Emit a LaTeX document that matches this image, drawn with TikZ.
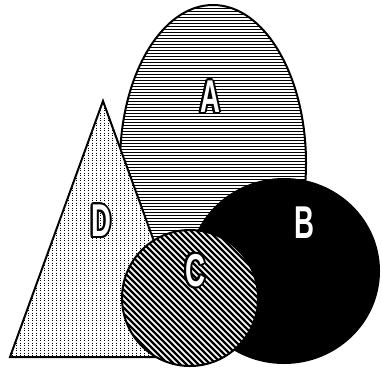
\documentclass[tikz,border=0pt]{standalone}
\usepackage{fontspec}
\newfontfamily\lblfont{Liberation Sans}
\tikzset{
  outline/.style={line width=2pt, draw=black},
  hatch/.style={line width=1pt, black},
}
\newcommand{\outlined}[1]{%
  \tikz[baseline]{%
    \foreach \a in {0,22.5,...,359}{\node[inner sep=0pt, text=black, anchor=base] at (\a:2pt) {#1};}
    \node[inner sep=0pt, text=white, anchor=base] at (0,0) {#1};}}
\newcommand{\lbl}[1]{\scalebox{0.6}[1]{\lblfont\bfseries\fontsize{46}{46}\selectfont #1}}
\begin{document}
\begin{tikzpicture}[x=1pt,y=-1pt]
\useasboundingbox (0,0) rectangle (382,368);
% A ellipse
\fill[white] (213,163) ellipse [x radius=93, y radius=158];
\begin{scope}
  \clip (213,163) ellipse [x radius=93, y radius=158];
  \foreach \y in {5,8,...,325} \draw[hatch] (115,\y) -- (310,\y);
\end{scope}
\draw[outline] (213,163) ellipse [x radius=93, y radius=158];
% D triangle
\fill[white] (103,101) -- (196,357) -- (10,357) -- cycle;
\begin{scope}
  \clip (103,101) -- (196,357) -- (10,357) -- cycle;
  \foreach \x in {12,16,...,196} \draw[line width=1pt, dash pattern=on 1pt off 1.5pt] (\x,100) -- (\x,358);
\end{scope}
\draw[outline, line join=miter] (103,101) -- (196,357) -- (10,357) -- cycle;
% B ellipse
\fill[black] (284,271) ellipse [x radius=96, y radius=93];
% C circle
\fill[white] (190,298) circle [radius=68];
\begin{scope}
  \clip (190,298) circle [radius=68];
  \foreach \k in {-160,-154,...,160} \draw[line width=2.3pt] (190+\k-80,218) -- (190+\k+80,378);
\end{scope}
\draw[outline] (190,298) circle [radius=68];
% labels
\node (la) at (210,97) {\outlined{\lbl{A}}};
\node (lb) at (304.5,222.5) {\textcolor{white}{\lbl{B}}};
\node (lc) at (195,270.5) {\outlined{\lbl{C}}};
\node (ld) at (101,221) {\outlined{\lbl{D}}};
\end{tikzpicture}
\end{document}
